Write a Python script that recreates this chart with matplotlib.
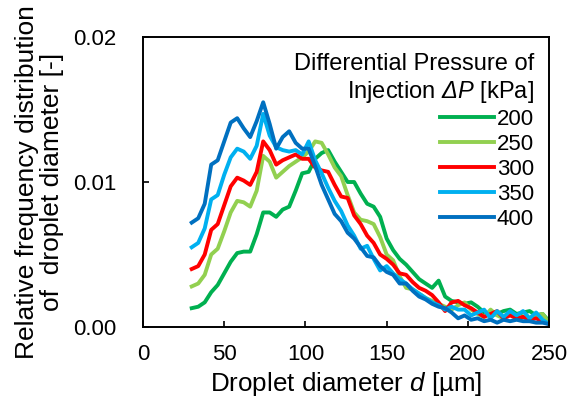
import matplotlib
matplotlib.use("Agg")
import matplotlib.pyplot as plt

plt.rcParams["font.family"] = ["Liberation Sans", "DejaVu Sans"]
plt.rcParams["mathtext.fontset"] = "custom"
# capital Greek is drawn with the "rm" font, so make that italic for the slanted Delta
plt.rcParams["mathtext.rm"] = "Liberation Sans:italic"
plt.rcParams["mathtext.it"] = "Liberation Sans:italic"

# droplet diameter [um]
diameter = [30, 34, 38, 42, 46, 50, 54, 58, 62, 66, 70, 74, 78, 82, 86, 90, 94, 98,
            102, 106, 110, 114, 118, 122, 126, 130, 134, 138, 142, 146, 150, 154,
            158, 162, 166, 170, 174, 178, 182, 186, 190, 194, 198, 202, 206, 210,
            214, 218, 222, 226, 230, 234, 238, 242, 246, 250]

# relative frequency for each injection pressure
p200 = [.0013, .0014, .0017, .0024, .0029, .0037, .0045, .0051, .0052, .0052, .0064, .0079,
        .0079, .0076, .0081, .0083, .0094, .0106, .0107, .0116, .0120, .0122, .0114, .0107,
        .0100, .0100, .0092, .0085, .0083, .0076, .0061, .0053, .0047, .0043, .0038, .0033,
        .0030, .0027, .0032, .0021, .0018, .0017, .0016, .0017, .0014, .0010, .0008, .0009,
        .0011, .0012, .0009, .0010, .0011, .0008, .0009, .0004]
p250 = [.0028, .0030, .0036, .0050, .0054, .0066, .0079, .0087, .0086, .0083, .0094, .0118,
        .0114, .0103, .0107, .0111, .0114, .0117, .0121, .0128, .0127, .0119, .0110, .0104,
        .0091, .0079, .0074, .0073, .0071, .0062, .0050, .0046, .0035, .0027, .0026, .0023,
        .0020, .0018, .0016, .0014, .0012, .0015, .0017, .0012, .0009, .0007, .0012, .0008,
        .0006, .0009, .0006, .0007, .0005, .0008, .0009, .0003]
p300 = [.0040, .0042, .0050, .0067, .0071, .0084, .0097, .0103, .0101, .0098, .0107, .0128,
        .0122, .0112, .0115, .0117, .0119, .0116, .0116, .0110, .0108, .0107, .0098, .0090,
        .0089, .0077, .0071, .0063, .0058, .0050, .0047, .0043, .0037, .0036, .0031, .0027,
        .0025, .0022, .0017, .0011, .0017, .0018, .0015, .0013, .0010, .0007, .0009, .0011,
        .0006, .0008, .0006, .0007, .0005, .0006, .0004, .0002]
p350 = [.0055, .0058, .0068, .0088, .0091, .0105, .0117, .0123, .0121, .0116, .0125, .0147,
        .0132, .0124, .0122, .0121, .0122, .0119, .0128, .0115, .0106, .0096, .0087, .0080,
        .0070, .0063, .0054, .0056, .0047, .0039, .0042, .0037, .0033, .0030, .0026, .0023,
        .0020, .0017, .0015, .0012, .0014, .0012, .0012, .0008, .0010, .0012, .0006, .0011,
        .0007, .0011, .0008, .0011, .0006, .0010, .0005, .0002]
p400 = [.0072, .0075, .0085, .0112, .0115, .0128, .0141, .0144, .0137, .0131, .0142, .0155,
        .0140, .0123, .0131, .0135, .0127, .0123, .0123, .0111, .0098, .0088, .0078, .0073,
        .0065, .0061, .0055, .0049, .0048, .0042, .0038, .0036, .0030, .0030, .0025, .0021,
        .0019, .0016, .0014, .0013, .0010, .0006, .0008, .0005, .0006, .0004, .0005, .0003,
        .0005, .0004, .0005, .0004, .0004, .0003, .0003, .0002]

labels = ["200", "250", "300", "350", "400"]
colors = ["#00B050", "#92D050", "#FF0000", "#00B0F0", "#0070C0"]

fig = plt.figure(figsize=(5.69, 4.01), dpi=100)
ax = fig.add_axes([0.2513, 0.1845, 0.7137, 0.7232])

for y, lab, c in zip([p200, p250, p300, p350, p400], labels, colors):
    ax.plot(diameter, y, color=c, lw=2.8, label=lab)

ax.set_xlim(0, 250)
ax.set_ylim(0, 0.02)
ax.set_xticks([0, 50, 100, 150, 200, 250])
ax.set_yticks([0, 0.01, 0.02])
ax.set_yticklabels(["0.00", "0.01", "0.02"])
ax.tick_params(direction="in", length=4, width=1.2, labelsize=16, color="black")
ax.tick_params(axis="y", pad=19)
ax.tick_params(axis="x", pad=12)
for s in ax.spines.values():
    s.set_linewidth(1.4)

ax.set_xlabel("Droplet diameter $\\mathit{d}$ [µm]", fontsize=18.7, labelpad=4)
ax.set_ylabel("Relative frequency distribution\nof  droplet diameter [-]", fontsize=19,
              linespacing=1.05)
ax.yaxis.set_label_coords(-0.195, 0.5)

leg = ax.legend(loc="upper right", frameon=False, fontsize=16,
                title="Differential Pressure of\nInjection $\\mathit{\\Delta P}$ [kPa]",
                title_fontsize=17, alignment="right", handlelength=2.4,
                handletextpad=0.14, labelspacing=0.18, borderaxespad=0, borderpad=0,
                bbox_to_anchor=(0.963, 0.944))
leg.get_title().set_multialignment("right")

fig.savefig("out.png", dpi=100)
